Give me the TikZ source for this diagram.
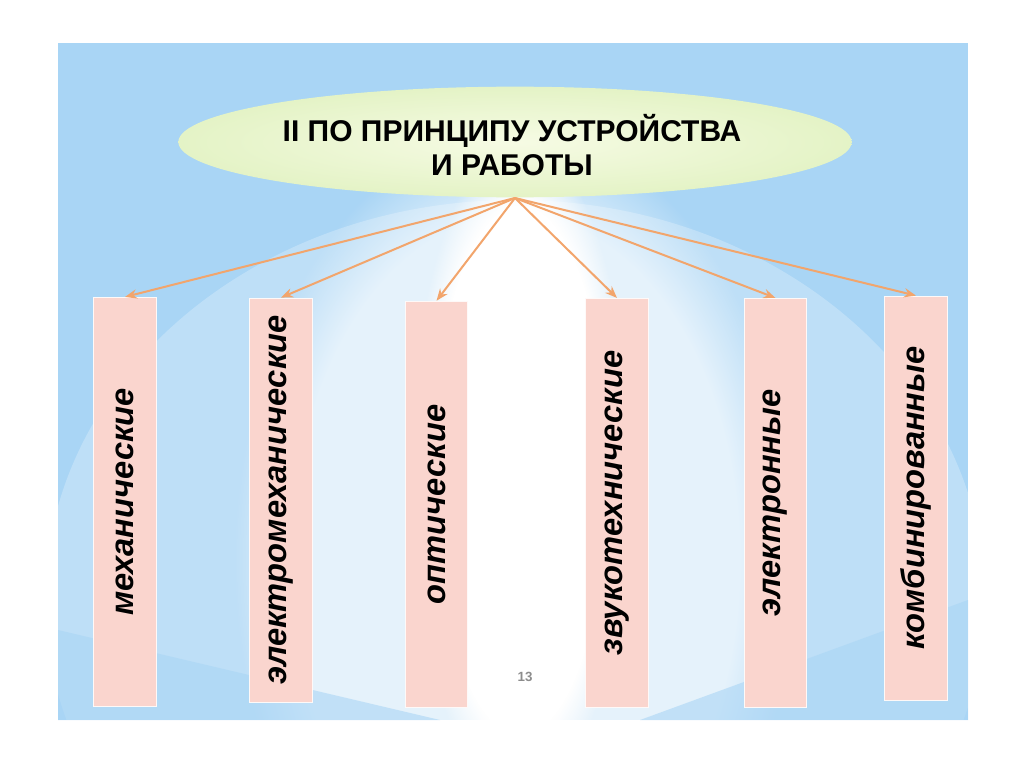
\documentclass[tikz,border=0pt]{standalone}
\usepackage{fontspec}
\setmainfont{Liberation Sans}
\usetikzlibrary{arrows.meta,fadings,shapes.geometric}
\definecolor{bgblue}{HTML}{A9D5F5}
\definecolor{boxpink}{HTML}{FAD5CE}
\definecolor{arrorange}{HTML}{F2A56C}
\definecolor{ellin}{HTML}{F6FBE4}
\definecolor{ellout}{HTML}{E4F3C6}
\tikzfading[name=midglow, left color=transparent!100, middle color=transparent!0, right color=transparent!100]
\tikzset{
  catbox/.style={fill=boxpink, draw=white!85!boxpink, line width=0.6pt, rotate=90,
    minimum height=47pt, inner sep=0pt, font=\fontsize{24.5}{26}\selectfont\bfseries\itshape},
  link/.style={draw=arrorange, line width=1.5pt, -{Stealth[length=9pt,width=7pt,inset=3pt]}},
}
\begin{document}
\begin{tikzpicture}[x=0.75pt,y=-0.75pt]
\useasboundingbox (0,0) rectangle (1024,767);
\fill[white] (0,0) rectangle (1024,767);
\begin{scope}
  \clip (58,43) rectangle (968,720);
  \fill[bgblue] (58,43) rectangle (968,720);
  \fill[white, opacity=0.25] (515,600) ellipse (470 and 400);
  \fill[white, path fading=circle with fuzzy edge 20 percent, opacity=0.6] (515,560) ellipse (280 and 430);
  \fill[white, path fading=midglow] (410,43) rectangle (620,720);
  \fill[white, path fading=midglow, opacity=0.8] (440,43) rectangle (590,260);
  \fill[white, path fading=circle with fuzzy edge 20 percent] (520,470) ellipse (110 and 330);
  \fill[white, path fading=circle with fuzzy edge 20 percent] (520,480) ellipse (75 and 300);
  \fill[bgblue, opacity=0.6] (58,630) -- (440,720) -- (58,720) -- cycle;
  \fill[bgblue, opacity=0.6] (968,600) -- (640,720) -- (968,720) -- cycle;
\end{scope}
% heading ellipse
\node[ellipse, inner color=ellin, outer color=ellout, minimum width=505pt, minimum height=83pt,
  inner sep=0pt] (head) at (515,142) {};
\node[align=center, font=\fontsize{22.5}{26}\selectfont\bfseries] (htext) at (512,145)
  {II ПО ПРИНЦИПУ УСТРОЙСТВА\\И РАБОТЫ};
\coordinate (hub) at (515,198);
% boxes
\node[catbox, minimum width=307pt] (b1) at (125,502) {механические};
\node[catbox, minimum width=303pt] (b2) at (281,500) {электромеханические};
\node[catbox, minimum width=305pt] (b3) at (436.5,504.5) {оптические};
\node[catbox, minimum width=307pt] (b4) at (617,503) {звукотехнические};
\node[catbox, minimum width=307pt] (b5) at (775.5,503) {электронные};
\node[catbox, minimum width=303pt] (b6) at (916,498) {комбинированные};
% arrows
\foreach \b in {b1,b2,b3,b4,b5,b6}{
  \draw[link] (hub) -- (\b.east);
}
\node[text=gray!90, font=\fontsize{10}{12}\selectfont\bfseries] (pg) at (525,677) {13};
\end{tikzpicture}
\end{document}
